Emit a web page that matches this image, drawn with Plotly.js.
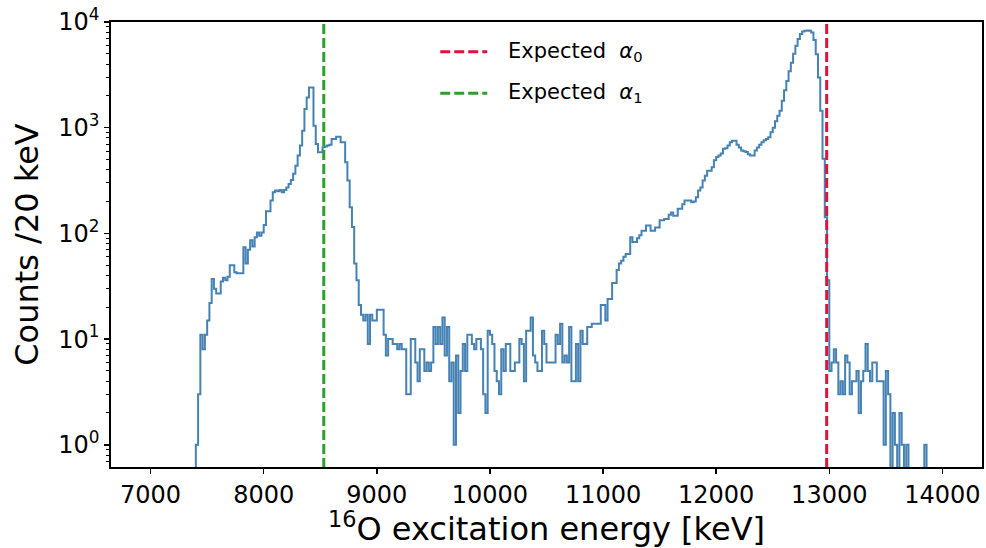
<!DOCTYPE html>
<html>
<head>
<meta charset="utf-8">
<script src="https://cdn.plot.ly/plotly-3.0.1.min.js"></script>
<style>html,body{margin:0;padding:0;background:#fff;}#chart{width:986px;height:548px;}</style>
</head>
<body>
<div id="chart"></div>
<script>
// Histogram: 20 keV bins starting at 7400 keV (counts per bin)
const binStart = 7400;
const binWidth = 20;
const counts = [
  1, 3, 11, 8, 11, 15, 22, 37, 30, 27,            // 7400
  27, 35, 38, 36, 39, 50, 50, 43, 42, 42,         // 7600
  42, 74, 52, 70, 86, 75, 92, 102, 95, 102,       // 7800
  120, 162, 162, 205, 245, 255, 250, 258, 245, 258, // 8000
  272, 294, 320, 366, 437, 545, 677, 935, 1500, 1930, // 8200
  2400, 2400, 1045, 702, 585, 585, 652, 665, 680, 690, // 8400
  782, 782, 822, 822, 727, 727, 471, 316, 177, 115, // 8600
  52, 36, 21, 17, 15, 17, 9, 17, 15, 15,          // 8800
  19, 19, 19, 11, 7, 10, 10, 9, 9, 8,             // 9000
  9, 8, 8, 3, 3, 10, 10, 6, 4, 8,                 // 9200
  8, 5, 6, 5, 6, 13, 9, 13, 9, 16,                // 9400
  7, 13, 4, 6, 1, 7, 2, 5, 9, 5,                  // 9600
  11, 11, 9, 8, 10, 10, 8, 3, 2, 12,              // 9800
  11, 9, 5, 4, 3, 8, 5, 9, 9, 5,                  // 10000
  5, 6, 6, 10, 9, 4, 12, 12, 16, 7,               // 10200
  6, 5, 5, 12, 9, 6, 6, 6, 6, 11,                 // 10400
  9, 14, 6, 7, 6, 13, 4, 4, 9, 4,                 // 10600
  12, 9, 9, 13, 13, 14, 14, 14, 14, 21,           // 10800
  21, 15, 24, 24, 34, 34, 45, 52, 55, 60,         // 11000
  64, 64, 92, 83, 83, 90, 96, 106, 106, 119,      // 11200
  119, 106, 106, 114, 114, 133, 133, 137, 137, 150, // 11400
  158, 147, 147, 171, 171, 189, 205, 205, 205, 197, // 11600
  200, 220, 254, 272, 316, 352, 392, 392, 422, 491, // 11800
  527, 545, 570, 632, 640, 677, 727, 754, 754, 690, // 12000
  650, 610, 600, 590, 560, 545, 545, 610, 650, 690, // 12200
  727, 760, 782, 812, 905, 1000, 1152, 1300, 1450, 1800, // 12400
  2260, 2770, 3420, 4110, 5020, 5950, 6890, 7720, 8140, 8270, // 12600
  8300, 8270, 7960, 6740, 4950, 2990, 1450, 508, 142, 36, // 12800
  5, 6, 8, 6, 3, 4, 3, 7, 6, 3,                   // 13000
  4, 4, 5, 2, 4, 5, 9, 5, 4, 6,                   // 13200
  6, 4, 4, 4, 1, 5, 3, 0, 2, 1,                   // 13400
  0, 2, 1, 0, 1, 0, 0, 0, 0, 0,                   // 13600
  0, 0, 1                                         // 13800
];
const expectedAlpha0 = 12977;   // keV
const expectedAlpha1 = 8531;    // keV
const legendLabels = ['Expected  <i>α</i><sub>0</sub>', 'Expected  <i>α</i><sub>1</sub>'];
const legendColors = ['#dc143c', '#2ca02c'];
const xTicks = [7000, 8000, 9000, 10000, 11000, 12000, 13000, 14000];
const xTickText = ['7000', '8000', '9000', '10000', '11000', '12000', '13000', '14000'];
const yTicks = [1, 10, 100, 1000, 10000];
const yTickText = ['10<sup>0</sup>', '10<sup>1</sup>', '10<sup>2</sup>', '10<sup>3</sup>', '10<sup>4</sup>'];

// minor log ticks 2..9 x 10^k
const yMinor = [];
for (let k = -1; k <= 3; k++) for (let m = 2; m <= 9; m++) yMinor.push(m * Math.pow(10, k));

// Step outline (zero-count bins fall below the log axis and are clipped)
const floorVal = 1e-3;
const sx = [binStart], sy = [floorVal];
counts.forEach((c, i) => { sx.push(binStart + i * binWidth); sy.push(c > 0 ? c : floorVal); });
const lastEdge = binStart + counts.length * binWidth;
sx.push(lastEdge); sy.push(counts[counts.length - 1] > 0 ? counts[counts.length - 1] : floorVal);
sx.push(lastEdge); sy.push(floorVal);

const FONT = 'DejaVu Sans, Arial, sans-serif';
const DASH = '10px,4px';

const traces = [
  {
    x: sx, y: sy, type: 'scatter', mode: 'lines',
    line: {shape: 'hv', color: '#4682b4', width: 2},
    showlegend: false, hoverinfo: 'skip'
  },
  {
    x: [expectedAlpha0, expectedAlpha0], y: [1e-3, 1e6], type: 'scatter', mode: 'lines',
    name: legendLabels[0], showlegend: false,
    line: {color: legendColors[0], width: 3, dash: DASH}
  },
  {
    x: [expectedAlpha1, expectedAlpha1], y: [1e-3, 1e6], type: 'scatter', mode: 'lines',
    name: legendLabels[1], showlegend: false,
    line: {color: legendColors[1], width: 3, dash: DASH}
  }
];

// hand-placed legend (matplotlib style: long sample line, wide gap)
const legX0 = 0.378, legX1 = 0.432, legTextX = 0.454;
const legY = [0.933, 0.840];
const shapes = [], annotations = [];
legendLabels.forEach((lab, i) => {
  shapes.push({type: 'line', xref: 'paper', yref: 'paper', x0: legX0, x1: legX1, y0: legY[i], y1: legY[i],
    line: {color: legendColors[i], width: 3, dash: DASH}});
  annotations.push({xref: 'paper', yref: 'paper', x: legTextX, y: legY[i], xanchor: 'left', yanchor: 'middle',
    text: lab, showarrow: false, font: {family: FONT, size: 21, color: '#000'}});
});

const layout = {
  width: 986, height: 548,
  margin: {l: 111, r: 4, t: 22, b: 81},
  paper_bgcolor: '#ffffff', plot_bgcolor: '#ffffff',
  font: {family: FONT, color: '#000000'},
  showlegend: false,
  shapes: shapes,
  annotations: annotations,
  xaxis: {
    range: [6650, 14350], tickvals: xTicks, ticktext: xTickText,
    ticks: 'outside', ticklen: 5, tickwidth: 1.5, tickcolor: '#000',
    showline: true, mirror: true, linecolor: '#000', linewidth: 1.8,
    showgrid: false, zeroline: false,
    tickfont: {family: FONT, size: 24, color: '#000'},
    title: {text: '<sup>16</sup>O excitation energy [keV]', font: {family: FONT, size: 32, color: '#000'}, standoff: 6}
  },
  yaxis: {
    type: 'log', range: [-0.21, 4],
    tickvals: yTicks, ticktext: yTickText,
    ticks: 'outside', ticklen: 5, tickwidth: 1.5, tickcolor: '#000',
    minor: {tickmode: 'array', tickvals: yMinor, ticks: 'outside', ticklen: 3, tickwidth: 1, tickcolor: '#000', showgrid: false},
    showline: true, mirror: true, linecolor: '#000', linewidth: 1.8,
    showgrid: false, zeroline: false,
    tickfont: {family: FONT, size: 24, color: '#000'},
    title: {text: 'Counts /20 keV', font: {family: FONT, size: 32, color: '#000'}, standoff: 10}
  }
};

Plotly.newPlot('chart', traces, layout, {staticPlot: true, displayModeBar: false});
</script>
</body>
</html>
